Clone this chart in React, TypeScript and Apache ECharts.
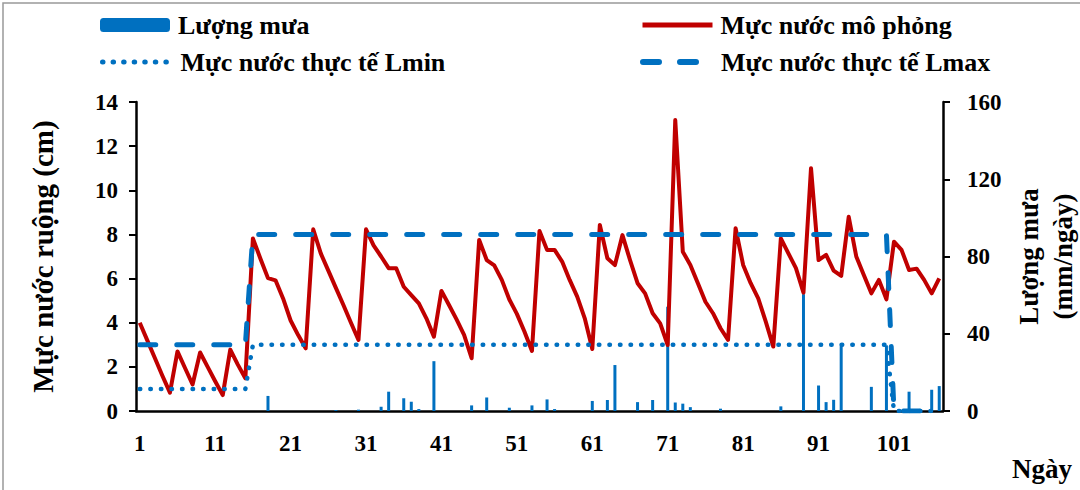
import React, { useEffect, useRef } from "react";
import * as echarts from "echarts";

const days: string[] = Array.from({ length: 107 }, (_, i) => String(i + 1));

const simulated: number[] = [
  4.0, 3.2, 2.4, 1.6, 0.83, 2.7, 1.95, 1.2, 2.65, 2.0,
  1.35, 0.72, 2.78, 2.1, 1.48, 7.82, 6.9, 6.02, 5.92, 5.1,
  4.1, 3.44, 2.84, 8.23, 7.14, 6.36, 5.58, 4.8, 4.0, 3.22,
  8.23, 7.5, 7.0, 6.47, 6.47, 5.63, 5.25, 4.88, 4.2, 3.37,
  5.44, 4.8, 4.15, 3.45, 2.39, 7.75, 6.84, 6.6, 5.94, 5.05,
  4.4, 3.6, 2.72, 8.16, 7.3, 7.3, 6.77, 5.94, 5.18, 4.2,
  2.81, 8.43, 6.92, 6.61, 7.97, 6.84, 5.79, 5.33, 4.43, 3.97,
  2.99, 13.18, 7.22, 6.62, 5.79, 4.95, 4.43, 3.75, 3.22, 8.28,
  6.62, 5.79, 5.1, 4.05, 2.92, 7.82, 7.14, 6.47, 5.36, 11.0,
  6.84, 7.07, 6.36, 6.12, 8.8, 7.0, 6.16, 5.33, 5.94, 5.06,
  7.67, 7.3, 6.39, 6.45, 5.94, 5.33, 6.01,
];

const rainfall: number[] = [
  0, 0, 0, 0, 0, 0, 0, 0, 0, 0,
  0, 0, 0, 0, 0, 0, 0, 7.8, 0, 0,
  0, 0, 0, 0, 0, 0, 0.5, 0, 0, 0.7,
  0, 0, 2.2, 10, 0, 6.6, 4.8, 1.0, 0, 25.8,
  0, 0, 0, 0, 2.9, 0, 7.0, 0, 0, 1.7,
  0, 0, 2.9, 0, 6.0, 1.0, 0, 0, 0, 0,
  5.2, 0, 5.7, 23.8, 0, 0, 4.6, 0, 5.7, 0,
  54, 4.4, 3.8, 2.0, 0, 0, 0, 1.2, 0, 0,
  0, 0, 0, 0, 0, 2.4, 0, 0, 60.5, 0,
  13.2, 4.6, 5.8, 35, 0, 0, 0, 12.5, 0, 34,
  0, 0, 10, 0, 0, 11, 12.9,
];

const lminValues: number[] = [
  ...Array(15).fill(1),
  ...Array(85).fill(3),
  ...Array(7).fill(0),
];
const lmaxValues: number[] = [
  ...Array(15).fill(3),
  ...Array(85).fill(8),
  ...Array(7).fill(0),
];

const leftTicks = { min: 0, max: 14, interval: 2 };
const rightTicks = { min: 0, max: 160, interval: 40 };

const FONT = "'Liberation Serif', 'Times New Roman', serif";
const BLUE = "#0070C0";
const RED = "#C00000";

export default function App() {
  const ref = useRef<HTMLDivElement>(null);
  useEffect(() => {
    if (!ref.current) return;
    const chart = echarts.init(ref.current, null, { renderer: "svg" });
    const tickStyle = { fontFamily: FONT, fontWeight: "bold" as const, fontSize: 23, color: "#000" };
    const legendText = { fontFamily: FONT, fontWeight: "bold" as const, fontSize: 26, color: "#000", padding: [0, 0, 0, 3] };
    const hiddenSymbol = { opacity: 0 };
    chart.setOption({
      animation: false,
      backgroundColor: "#fff",
      grid: { left: 136, right: 137, top: 102, bottom: 79, containLabel: false, outerBoundsMode: "none" },
      legend: [
        { data: ["Lượng mưa"], left: 100, top: 12, padding: 0, itemWidth: 70, itemHeight: 14, textStyle: legendText, selectedMode: false },
        { data: ["Mực nước mô phỏng"], left: 640, top: 12, padding: 0, itemWidth: 70, itemHeight: 14, textStyle: legendText, selectedMode: false, itemStyle: hiddenSymbol, lineStyle: { width: 5 } },
        { data: ["Mực nước thực tế Lmin"], left: 100, top: 49, padding: 0, itemWidth: 70, itemHeight: 14, textStyle: legendText, selectedMode: false, itemStyle: hiddenSymbol, lineStyle: { width: 5 } },
        { data: ["Mực nước thực tế Lmax"], left: 640, top: 49, padding: 0, itemWidth: 70, itemHeight: 14, textStyle: legendText, selectedMode: false, itemStyle: hiddenSymbol, lineStyle: { width: 6 } },
      ],
      xAxis: {
        type: "category",
        data: days,
        boundaryGap: true,
        axisLine: { lineStyle: { color: "#000", width: 2.5 } },
        axisTick: { show: false },
        axisLabel: { ...tickStyle, interval: 9, margin: 21 },
        splitLine: { show: false },
      },
      yAxis: [
        {
          type: "value",
          ...leftTicks,
          position: "left",
          name: "Mực nước ruộng (cm)",
          nameLocation: "middle",
          nameGap: 79,
          nameRotate: 90,
          nameTextStyle: { fontFamily: FONT, fontWeight: "bold", fontSize: 29, color: "#000" },
          axisLine: { show: true, lineStyle: { color: "#000", width: 2.5 } },
          axisTick: { show: true, inside: false, length: 7, lineStyle: { color: "#000", width: 2 } },
          axisLabel: { ...tickStyle, margin: 18 },
          splitLine: { show: false },
        },
        {
          type: "value",
          ...rightTicks,
          position: "right",
          name: "Lượng mưa\n(mm/ngày)",
          nameLocation: "middle",
          nameGap: 58,
          nameRotate: 90,
          nameTextStyle: { fontFamily: FONT, fontWeight: "bold", fontSize: 27, color: "#000", lineHeight: 34 },
          axisLine: { show: true, lineStyle: { color: "#000", width: 2.5 } },
          axisTick: { show: true, inside: false, length: 7, lineStyle: { color: "#000", width: 2 } },
          axisLabel: { ...tickStyle, margin: 24 },
          splitLine: { show: false },
        },
      ],
      series: [
        {
          name: "Lượng mưa",
          type: "bar",
          yAxisIndex: 1,
          data: rainfall,
          barWidth: 3,
          itemStyle: { color: BLUE },
        },
        {
          name: "Mực nước mô phỏng",
          type: "line",
          yAxisIndex: 0,
          data: simulated,
          symbol: "none",
          lineStyle: { color: RED, width: 4, join: "round" },
          itemStyle: { color: RED },
        },
        {
          name: "Mực nước thực tế Lmin",
          type: "line",
          yAxisIndex: 0,
          data: lminValues,
          symbol: "none",
          lineStyle: { color: BLUE, width: 4.5, type: [0.5, 10.06], cap: "round" },
          itemStyle: { color: BLUE },
        },
        {
          name: "Mực nước thực tế Lmax",
          type: "line",
          yAxisIndex: 0,
          data: lmaxValues,
          symbol: "none",
          lineStyle: { color: BLUE, width: 5, type: [16, 21], cap: "round" },
          itemStyle: { color: BLUE },
        },
      ],
      graphic: [
        {
          type: "rect",
          shape: { x: 3, y: 3, width: 1100, height: 520 },
          style: { fill: "none", stroke: "#999", lineWidth: 1.5 },
          silent: true,
        },
        {
          type: "text",
          left: 1012,
          top: 455,
          style: { text: "Ngày", fontFamily: FONT, fontWeight: "bold", fontSize: 27, fill: "#000" },
        },
      ],
    });
    return () => chart.dispose();
  }, []);
  return (
    <div
      ref={ref}
      style={{ position: "fixed", left: 0, top: 0, width: 1080, height: 490 }}
    />
  );
}
